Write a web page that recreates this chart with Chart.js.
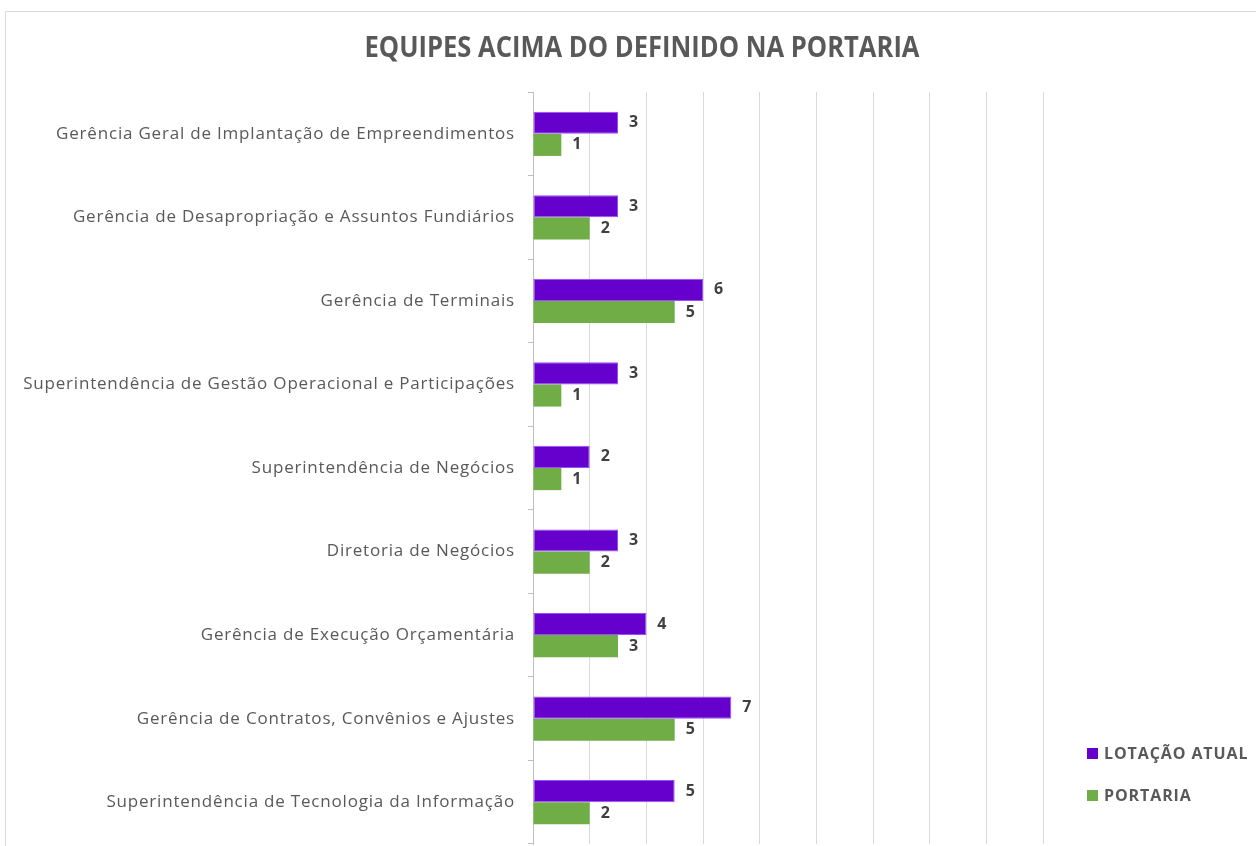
<!DOCTYPE html>
<html>
<head>
<meta charset="utf-8">
<script src="https://cdn.jsdelivr.net/npm/chart.js@4/dist/chart.umd.min.js"></script>
<style>
  html, body { margin: 0; padding: 0; background: #ffffff; }
  #wrap { width: 1256px; height: 846px; position: relative; }
</style>
</head>
<body>
<div id="wrap"><canvas id="teamChart" width="1256" height="846"></canvas></div>
<script>
// Chart data
const categories = [
    'Gerência Geral de Implantação de Empreendimentos',
    'Gerência de Desapropriação e Assuntos Fundiários',
    'Gerência de Terminais',
    'Superintendência de Gestão Operacional e Participações',
    'Superintendência de Negócios',
    'Diretoria de Negócios',
    'Gerência de Execução Orçamentária',
    'Gerência de Contratos, Convênios e Ajustes',
    'Superintendência de Tecnologia da Informação'
];
const lotacaoAtual = [3, 3, 6, 3, 2, 3, 4, 7, 5];
const portaria = [1, 2, 5, 1, 1, 2, 3, 5, 2];
const seriesNames = ['LOTAÇÃO ATUAL', 'PORTARIA'];
const chartTitle = 'EQUIPES ACIMA DO DEFINIDO NA PORTARIA';
const axisMax = 18;
const axisStep = 2;

const textGray = '#595959';

// Frame around the chart plus the title (centred on the whole chart, like Excel)
const framePlugin = {
    id: 'frame',
    beforeDraw(chart) {
        const ctx = chart.ctx;
        ctx.save();
        ctx.fillStyle = '#ffffff';
        ctx.fillRect(0, 0, chart.width, chart.height);
        ctx.strokeStyle = '#d9d9d9';
        ctx.lineWidth = 1;
        ctx.beginPath();
        ctx.moveTo(5.5, chart.height);
        ctx.lineTo(5.5, 11.5);
        ctx.lineTo(chart.width, 11.5);
        ctx.stroke();

        // title, squeezed a bit to look condensed
        ctx.font = 'bold 28px "Open Sans", sans-serif';
        ctx.fillStyle = textGray;
        ctx.textBaseline = 'middle';
        ctx.textAlign = 'center';
        const w = ctx.measureText(chartTitle).width;
        const sx = 555 / w;
        ctx.translate(642, 49);
        ctx.scale(sx, 1);
        ctx.fillText(chartTitle, 0, 0);
        ctx.restore();

        // spaced lettering for the axis labels
        ctx.letterSpacing = '0.8px';
    }
};

// Value labels at the end of each bar
const valueLabels = {
    id: 'valueLabels',
    afterDatasetsDraw(chart) {
        const ctx = chart.ctx;
        ctx.save();
        ctx.letterSpacing = '0px';
        ctx.font = 'bold 16px "Open Sans", sans-serif';
        ctx.fillStyle = '#404040';
        ctx.textAlign = 'left';
        ctx.textBaseline = 'middle';
        chart.data.datasets.forEach((ds, i) => {
            const meta = chart.getDatasetMeta(i);
            meta.data.forEach((bar, j) => {
                ctx.fillText(String(ds.data[j]), bar.x + 11, bar.y);
            });
        });
        ctx.restore();
    }
};

// Legend drawn at the lower right
const sideLegend = {
    id: 'sideLegend',
    afterDraw(chart) {
        const ctx = chart.ctx;
        ctx.save();
        ctx.letterSpacing = '0.9px';
        ctx.font = 'bold 16px "Open Sans", sans-serif';
        ctx.textBaseline = 'middle';
        ctx.textAlign = 'left';
        const rows = [753, 795];
        chart.data.datasets.forEach((ds, i) => {
            const y = rows[i];
            ctx.fillStyle = ds.backgroundColor;
            ctx.fillRect(1087, y - 5, 11, 11);
            ctx.fillStyle = textGray;
            ctx.fillText(ds.label, 1104, y + 1);
        });
        ctx.restore();
        ctx.letterSpacing = '0px';
    }
};

const ctx = document.getElementById('teamChart').getContext('2d');
const teamChart = new Chart(ctx, {
    type: 'bar',
    data: {
        labels: categories,
        datasets: [{
            label: seriesNames[0],
            data: lotacaoAtual,
            backgroundColor: '#6600cc',
            borderColor: '#9b4dff',
            borderWidth: 1,
            borderSkipped: false
        }, {
            label: seriesNames[1],
            data: portaria,
            backgroundColor: '#70ad47',
            borderWidth: 0
        }]
    },
    options: {
        indexAxis: 'y',
        responsive: false,
        animation: false,
        devicePixelRatio: 1,
        categoryPercentage: 0.53,
        barPercentage: 1.0,
        layout: {
            padding: { left: 0, right: 213, top: 92, bottom: 2 }
        },
        scales: {
            x: {
                min: 0,
                max: axisMax,
                afterFit(scale) {
                    scale.height = 0;
                    scale.paddingLeft = 0;
                    scale.paddingRight = 0;
                },
                ticks: { display: false, stepSize: axisStep },
                grid: { color: '#d9d9d9', drawTicks: false },
                border: { display: false }
            },
            y: {
                afterFit(scale) {
                    scale.width = 533;
                    scale.paddingTop = 0;
                    scale.paddingBottom = 0;
                },
                ticks: {
                    color: textGray,
                    padding: 13,
                    font: { family: '"Open Sans", sans-serif', size: 17 }
                },
                grid: {
                    drawOnChartArea: false,
                    drawTicks: true,
                    tickLength: 5,
                    color: '#bfbfbf',
                    offset: true
                },
                border: { display: true, color: '#bfbfbf' }
            }
        },
        plugins: {
            legend: { display: false },
            tooltip: { enabled: false },
            title: { display: false }
        }
    },
    plugins: [framePlugin, valueLabels, sideLegend]
});
</script>
</body>
</html>
